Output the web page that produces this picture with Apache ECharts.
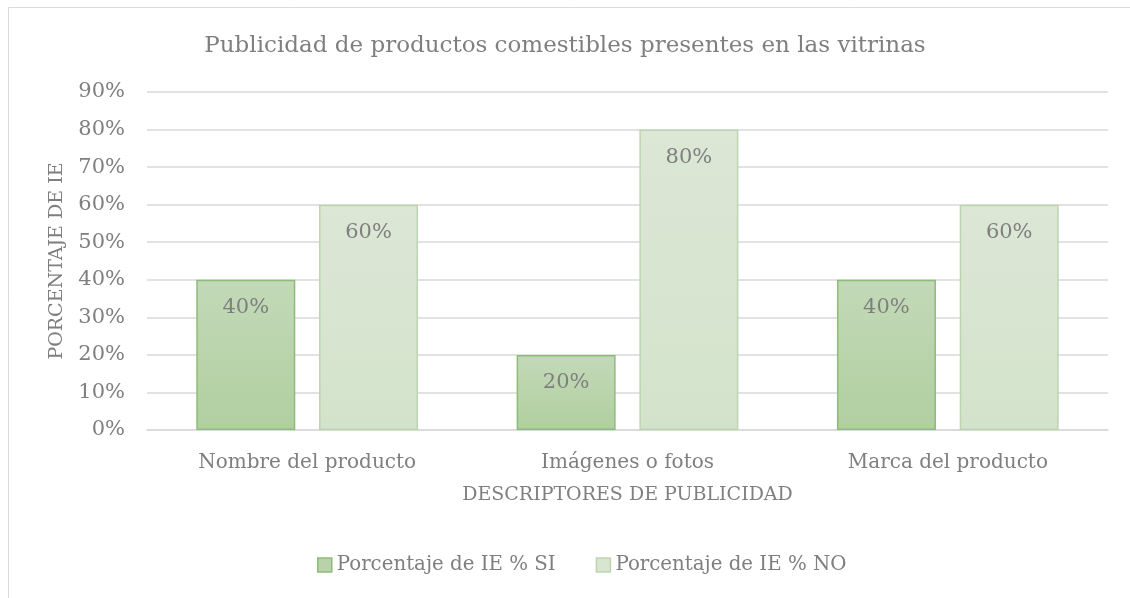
<!DOCTYPE html>
<html><head><meta charset="utf-8">
<script src="https://cdn.jsdelivr.net/npm/echarts@6/dist/echarts.min.js"></script>
<style>html,body{margin:0;padding:0;background:#fff}#c{width:1130px;height:598px}</style>
</head><body><div id="c"></div>
<script>
const categories = ['Nombre del producto', 'Imágenes o fotos', 'Marca del producto'];
const seriesSI = [40, 20, 40];
const seriesNO = [60, 80, 60];
const seriesNames = ['Porcentaje de IE % SI', 'Porcentaje de IE % NO'];
const titleText = 'Publicidad de productos comestibles presentes en las vitrinas';
const xName = 'DESCRIPTORES DE PUBLICIDAD';
const yName = 'PORCENTAJE DE IE';

const FONT = 'DejaVu Serif';
const GRAY = '#7f7f7f';
const chart = echarts.init(document.getElementById('c'));
function grad(a, b) {
  return {type: 'linear', x: 0, y: 0, x2: 0, y2: 1, colorStops: [{offset: 0, color: a}, {offset: 1, color: b}]};
}
const labelCfg = {show: true, position: 'insideTop', distance: 17, color: GRAY, fontFamily: FONT, fontSize: 21, formatter: p => p.value + '%'};
chart.setOption({
  animation: false,
  textStyle: {fontFamily: FONT},
  graphic: [{type: 'rect', shape: {x: 8.5, y: 7.5, width: 1140, height: 620}, style: {fill: 'none', stroke: '#d9d9d9', lineWidth: 1}, silent: true}],
  title: {text: titleText, left: 'center', top: 30, textStyle: {fontFamily: FONT, fontSize: 23, fontWeight: 'normal', color: GRAY}},
  legend: {bottom: 18, left: 312, itemWidth: 14, itemHeight: 14, itemGap: 40, icon: 'rect',
    textStyle: {fontFamily: FONT, fontSize: 19.8, color: GRAY},
    data: [
      {name: seriesNames[0], itemStyle: {color: '#b8d3aa', borderColor: '#8dbc78', borderWidth: 1.5}},
      {name: seriesNames[1], itemStyle: {color: '#d8e6d0', borderColor: '#bcd5b0', borderWidth: 1.5}}
    ]},
  grid: {left: 147, right: 22, top: 92, bottom: 168},
  xAxis: {type: 'category', data: categories,
    name: xName, nameLocation: 'middle', nameGap: 56,
    nameTextStyle: {fontFamily: FONT, fontSize: 19, color: GRAY},
    axisLine: {lineStyle: {color: '#d9d9d9', width: 1.5}}, axisTick: {show: false},
    axisLabel: {fontFamily: FONT, fontSize: 20, color: GRAY, margin: 23}},
  yAxis: {type: 'value', min: 0, max: 90, interval: 10,
    name: yName, nameLocation: 'middle', nameGap: 80,
    nameTextStyle: {fontFamily: FONT, fontSize: 19, color: GRAY},
    axisLine: {show: false}, axisTick: {show: false},
    axisLabel: {fontFamily: FONT, fontSize: 21, color: GRAY, margin: 22, formatter: v => v + '%'},
    splitLine: {lineStyle: {color: '#d9d9d9', width: 1.5}}},
  series: [
    {name: seriesNames[0], type: 'bar', data: seriesSI, barWidth: 99, barGap: '24%',
      itemStyle: {color: grad('#c3d9b8', '#b0cfa0'), borderColor: '#8dbc78', borderWidth: 1.5},
      label: labelCfg},
    {name: seriesNames[1], type: 'bar', data: seriesNO, barWidth: 99,
      itemStyle: {color: grad('#dce7d6', '#d3e3cb'), borderColor: '#bcd5b0', borderWidth: 1.5},
      label: labelCfg}
  ]
});
</script></body></html>
